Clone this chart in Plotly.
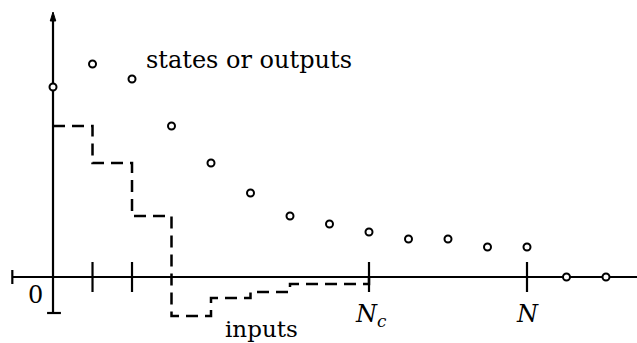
import plotly.graph_objects as go

# Sample instants and predicted state / output sequence
k_states = list(range(15))
states = [1.90, 2.13, 1.98, 1.51, 1.14, 0.84, 0.61, 0.53, 0.45, 0.38, 0.38, 0.30, 0.30, 0.0, 0.0]

# Piecewise-constant input sequence over the control horizon (zero from Nc on)
k_inputs = list(range(9))
inputs = [1.51, 1.14, 0.61, -0.39, -0.21, -0.15, -0.07, -0.07, 0.0]

# Horizon marks on the time axis
tick_k = [1, 2, 8, 12]
label_k = [0, 8, 12]
label_text = ["0", "<i>N</i><sub><i>c</i></sub>", "<i>N</i>"]

FONT = "DejaVu Serif"
INK = "black"

fig = go.Figure()

# inputs: dashed staircase
fig.add_trace(go.Scatter(
    x=k_inputs, y=inputs, mode="lines",
    line=dict(color=INK, width=2.5, dash="12px,7px", shape="hv"),
    hoverinfo="skip",
))

# states / outputs: open circles
fig.add_trace(go.Scatter(
    x=k_states, y=states, mode="markers",
    marker=dict(symbol="circle", size=7, color="white",
                line=dict(color=INK, width=2)),
    hoverinfo="skip",
))

shapes = []
# time axis with end stop on the left
shapes.append(dict(type="line", xref="x", yref="y", x0=-1.03, x1=15, y0=0, y1=0,
                   line=dict(color=INK, width=2.2), layer="below"))
shapes.append(dict(type="line", xref="x", yref="y", x0=-1.03, x1=-1.03, y0=0.07, y1=-0.07,
                   line=dict(color=INK, width=2.2), layer="below"))
# vertical axis and its lower stop
shapes.append(dict(type="line", xref="x", yref="y", x0=0, x1=0, y0=-0.36, y1=2.58,
                   line=dict(color=INK, width=2.2), layer="below"))
shapes.append(dict(type="line", xref="x", yref="y", x0=-0.15, x1=0.2, y0=-0.36, y1=-0.36,
                   line=dict(color=INK, width=2.2), layer="below"))
# arrow head on the vertical axis
shapes.append(dict(type="path", xref="x", yref="y",
                   path="M -0.07 2.56 L 0 2.65 L 0.07 2.56 Z",
                   fillcolor=INK, line=dict(color=INK, width=1)))
# tick marks
for k in tick_k:
    shapes.append(dict(type="line", xref="x", yref="y", x0=k, x1=k, y0=0.15, y1=-0.15,
                       line=dict(color=INK, width=2.2), layer="below"))

annotations = []
label_pos = {0: (-0.45, -0.18), 8: (8.05, -0.38), 12: (12.0, -0.37)}
for k, t in zip(label_k, label_text):
    x, y = label_pos[k]
    annotations.append(dict(x=x, y=y, xref="x", yref="y", text=t, showarrow=False,
                            font=dict(family=FONT, size=24, color=INK),
                            xanchor="center", yanchor="middle"))
annotations.append(dict(x=2.3, y=2.17, xref="x", yref="y", text="states or outputs",
                        showarrow=False, xanchor="left", yanchor="middle",
                        font=dict(family=FONT, size=24, color=INK)))
annotations.append(dict(x=4.3, y=-0.52, xref="x", yref="y", text="inputs",
                        showarrow=False, xanchor="left", yanchor="middle",
                        font=dict(family=FONT, size=23, color=INK)))

fig.update_layout(
    width=637, height=343,
    margin=dict(l=0, r=0, t=0, b=0),
    paper_bgcolor="white", plot_bgcolor="white",
    showlegend=False,
    xaxis=dict(visible=False, range=[-1.342, 14.785]),
    yaxis=dict(visible=False, range=[-0.66, 2.77]),
    shapes=shapes, annotations=annotations,
)

fig.write_html("out.html")
